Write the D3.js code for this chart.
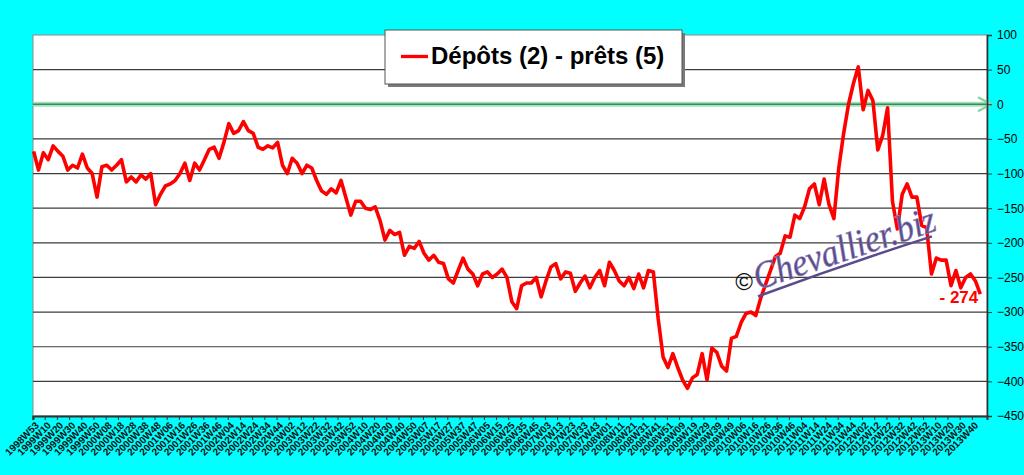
<!DOCTYPE html>
<html>
<head>
<meta charset="utf-8">
<script src="https://cdn.jsdelivr.net/npm/d3@7"></script>
<style>
  html, body { margin: 0; padding: 0; background: #00ffff; }
  svg { display: block; font-family: "Liberation Sans", Arial, sans-serif; }
</style>
</head>
<body>
<svg id="chart" width="1024" height="475"></svg>
<script>
// Weekly series "Dépôts (2) - prêts (5)", first week 1998W53

// -----------------------------------------------------------------------------
// DATA
// -----------------------------------------------------------------------------

const YEARS      = [1998, 1999, 2000, 2001, 2002, 2003, 2004, 2005, 2006, 2007, 2008, 2009, 2010, 2011, 2012, 2013];
const YEAR_WEEKS = [  53,   52,   52,   52,   52,   52,   53,   52,   52,   52,   52,   53,   52,   52,   52,   52];
const FIRST_WEEK = 53;
const N_CATEGORIES = 782;
const LABEL_EVERY = 10;

// one reading every SAMPLE_STEP weeks, starting at 1998W53
const SAMPLE_STEP = 4;
const VALUES = [
  -68, -95, -70, -80, -60, -68, -75, -95, -88, -92,
  -72, -92, -100, -134, -90, -88, -95, -88, -80, -112,
  -105, -112, -102, -108, -100, -145, -130, -118, -115, -110,
  -100, -85, -110, -85, -95, -80, -65, -62, -78, -55,
  -28, -42, -38, -25, -38, -42, -62, -65, -60, -63,
  -55, -88, -100, -78, -85, -100, -88, -92, -110, -125,
  -130, -122, -128, -110, -135, -160, -140, -140, -150, -152,
  -148, -168, -196, -182, -188, -185, -218, -205, -208, -198,
  -215, -225, -218, -228, -230, -252, -258, -240, -222, -238,
  -245, -262, -245, -242, -250, -245, -238, -250, -285, -295,
  -262, -258, -258, -250, -278, -255, -235, -230, -252, -242,
  -244, -270, -258, -248, -265, -250, -240, -262, -228, -240,
  -255, -262, -250, -266, -245, -265, -240, -242, -310, -365,
  -380, -360, -380, -398, -410, -395, -390, -360, -398, -352,
  -358, -378, -385, -338, -335, -315, -302, -300, -305, -280,
  -260, -240, -220, -215, -190, -192, -160, -165, -148, -122,
  -115, -145, -108, -145, -165, -92, -42, 0, 30, 54,
  -8, 20, 5, -66, -45, -5, -140, -180, -130, -115,
  -134, -134, -175, -178, -245, -222, -225, -225, -262, -240,
  -265, -250, -245, -255, -274
];

const Y_TICKS = [100, 50, 0, -50, -100, -150, -200, -250, -300, -350, -400, -450];
const LEGEND_TEXT = 'Dépôts (2) - prêts (5)';
const LAST_LABEL = '- 274';

// -----------------------------------------------------------------------------
// CATEGORIES
// -----------------------------------------------------------------------------

const CATEGORIES = [];
YEARS.forEach((yr, i) => {
  const start = i === 0 ? FIRST_WEEK : 1;
  for (let w = start; w <= YEAR_WEEKS[i]; w++) CATEGORIES.push(yr + 'W' + String(w).padStart(2, '0'));
});
CATEGORIES.length = N_CATEGORIES;

// -----------------------------------------------------------------------------
// CHART
// -----------------------------------------------------------------------------

const plot = { left: 33, right: 987, top: 35, bottom: 416 };
const svg = d3.select('#chart');

const x = d3.scaleBand().domain(d3.range(N_CATEGORIES)).range([plot.left, plot.right]).padding(0);
const bw = x.bandwidth();
const y = d3.scaleLinear().domain([-450, 100]).range([plot.bottom, plot.top]);

svg.append('rect')
  .attr('x', plot.left).attr('y', plot.top)
  .attr('width', plot.right - plot.left).attr('height', plot.bottom - plot.top)
  .attr('fill', '#ffffff').attr('stroke', '#8a8a8a').attr('stroke-width', 1);

// gridlines
svg.append('g').selectAll('line')
  .data(Y_TICKS.filter(v => v !== 0 && v !== 100 && v !== -450))
  .join('line')
  .attr('x1', plot.left).attr('x2', plot.right)
  .attr('y1', d => y(d)).attr('y2', d => y(d))
  .attr('stroke', '#3c3c3c').attr('stroke-width', 1.2);

// zero line with arrow
const zy = y(0);
svg.append('line').attr('x1', plot.left).attr('x2', 990).attr('y1', zy).attr('y2', zy)
  .attr('stroke', '#a6e0bf').attr('stroke-width', 5);
svg.append('line').attr('x1', plot.left).attr('x2', 990).attr('y1', zy).attr('y2', zy)
  .attr('stroke', '#2f8f55').attr('stroke-width', 1.6);
svg.append('path')
  .attr('d', `M978,${zy - 7}L991,${zy}L978,${zy + 7}`)
  .attr('fill', 'none').attr('stroke', '#86d4a8').attr('stroke-width', 2.5);

// series
const line = d3.line()
  .x((d, i) => x(i * SAMPLE_STEP) + bw / 2)
  .y(d => y(d));
svg.append('path')
  .datum(VALUES)
  .attr('d', line)
  .attr('fill', 'none')
  .attr('stroke', '#ff0000')
  .attr('stroke-width', 3.6)
  .attr('stroke-linejoin', 'round');

// last value label
const lastI = (VALUES.length - 1) * SAMPLE_STEP;
svg.append('text')
  .attr('x', x(lastI) + bw / 2 - 2).attr('y', y(VALUES[VALUES.length - 1]) + 9)
  .attr('text-anchor', 'end')
  .attr('fill', '#ff0000').attr('font-weight', 'bold').attr('font-size', 17)
  .text(LAST_LABEL);

// watermark
svg.append('text')
  .attr('x', 744).attr('y', 290)
  .attr('text-anchor', 'middle')
  .attr('font-size', 24).attr('fill', '#111')
  .text('©');
const wm = svg.append('g').attr('transform', 'translate(758,290) rotate(-18.4)');
wm.append('text')
  .attr('x', 0).attr('y', 0)
  .attr('font-family', '"Liberation Serif", "DejaVu Serif", serif')
  .attr('font-style', 'italic')
  .attr('font-size', 38)
  .attr('fill', '#5a4b8c')
  .attr('stroke', '#8e82b8').attr('stroke-width', 0.6)
  .attr('textLength', 190).attr('lengthAdjust', 'spacingAndGlyphs')
  .text('Chevallier.biz');
wm.append('path')
  .attr('d', 'M-2,6 Q90,3 182,4')
  .attr('fill', 'none').attr('stroke', '#5a4b8c').attr('stroke-width', 2.5);

// y axis (right)
const yAxis = svg.append('g')
  .attr('transform', `translate(${plot.right},0)`)
  .call(d3.axisRight(y).tickValues(Y_TICKS).tickSize(5).tickPadding(5).tickFormat(d3.format('d')));
yAxis.select('.domain').attr('stroke', '#333').attr('stroke-width', 1.6);
yAxis.selectAll('.tick line').attr('stroke', '#333');
yAxis.selectAll('.tick text')
  .attr('font-size', 12).attr('fill', '#000')
  .attr('font-family', '"Liberation Sans", Arial, sans-serif');

// x axis (bottom)
const xAxis = svg.append('g')
  .attr('transform', `translate(0,${plot.bottom})`)
  .call(d3.axisBottom(x)
    .tickValues(d3.range(0, N_CATEGORIES, LABEL_EVERY).filter(i => i <= 770))
    .tickSize(4)
    .tickFormat(i => CATEGORIES[i]));
xAxis.select('.domain').attr('stroke', '#333').attr('stroke-width', 2);
xAxis.selectAll('.tick line').attr('stroke', '#333').attr('transform', `translate(${-bw / 2},0)`);
xAxis.selectAll('.tick text')
  .attr('x', 0).attr('y', 0).attr('dy', 0)
  .attr('transform', 'translate(6,10) rotate(-45)')
  .style('text-anchor', 'end')
  .attr('font-size', 10).attr('font-weight', 'bold').attr('fill', '#111')
  .attr('font-family', '"Liberation Sans", Arial, sans-serif');

// legend
const lg = svg.append('g');
lg.append('rect').attr('x', 388).attr('y', 33).attr('width', 297).attr('height', 54).attr('fill', '#7a7a7a');
lg.append('rect').attr('x', 385).attr('y', 30).attr('width', 297).attr('height', 54)
  .attr('fill', '#ffffff').attr('stroke', '#555').attr('stroke-width', 1);
lg.append('line').attr('x1', 401).attr('x2', 428).attr('y1', 56.5).attr('y2', 56.5)
  .attr('stroke', '#ff0000').attr('stroke-width', 3.3);
lg.append('text').attr('x', 431).attr('y', 64)
  .attr('font-size', 24).attr('font-weight', 'bold').attr('fill', '#000')
  .text(LEGEND_TEXT);
</script>
</body>
</html>
